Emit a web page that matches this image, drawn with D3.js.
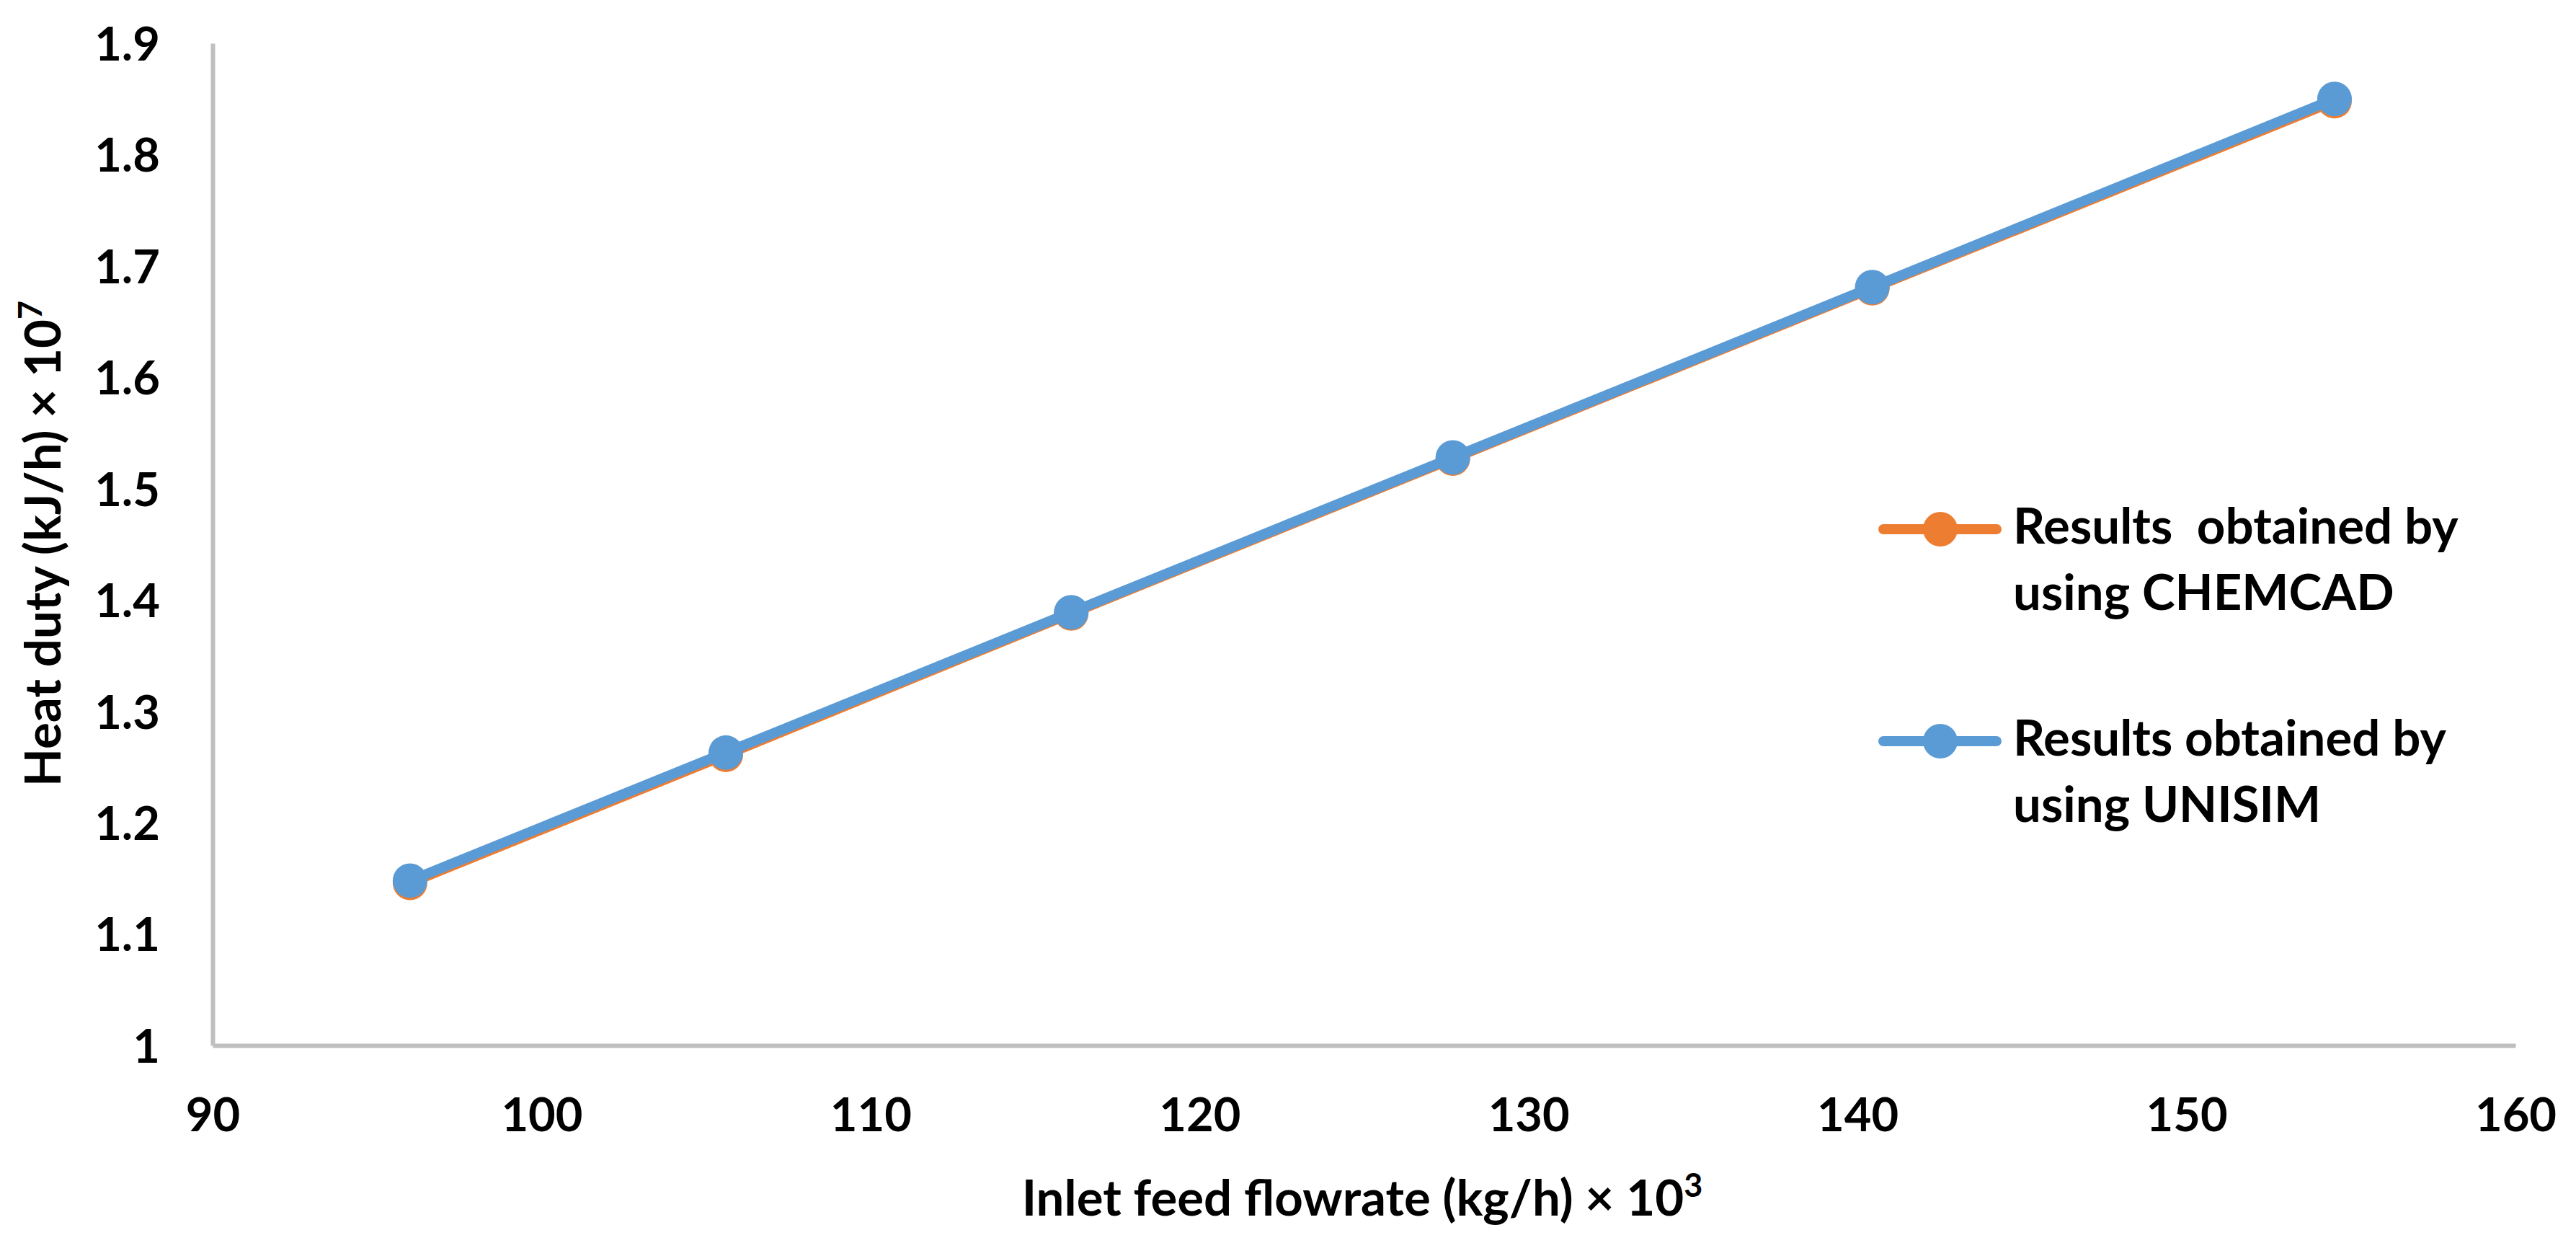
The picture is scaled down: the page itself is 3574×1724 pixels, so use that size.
<!DOCTYPE html>
<html>
<head>
<meta charset="utf-8">
<script src="https://cdn.jsdelivr.net/npm/d3@7"></script>
<style>
  html, body { margin: 0; padding: 0; background: #ffffff; }
  svg { display: block; }
  text { font-family: Lato, "Open Sans", sans-serif; font-weight: 700; fill: #000; }
</style>
</head>
<body>
<svg id="chart" width="3574" height="1724"></svg>
<script>
// ---- data ----
const flowrate = [96.0, 105.6, 116.1, 127.7, 140.45, 154.5];          // kg/h x 10^3
const chemcad  = [1.146, 1.261, 1.388, 1.527, 1.680, 1.848];          // kJ/h x 10^7
const unisim   = [1.148, 1.263, 1.389, 1.528, 1.681, 1.850];          // kJ/h x 10^7
const xTicks = [90, 100, 110, 120, 130, 140, 150, 160];
const yTicks = [1, 1.1, 1.2, 1.3, 1.4, 1.5, 1.6, 1.7, 1.8, 1.9];
const seriesNames = ["Results  obtained by|using CHEMCAD", "Results obtained by|using UNISIM"];
const seriesColors = ["#ED7D31", "#5B9BD5"];

// ---- layout ----
const W = 3574, H = 1724;
const plot = { left: 295, right: 3490, top: 60, bottom: 1450 };
const FS = 65;      // tick labels
const FT = 69;      // titles and legend

const svg = d3.select("#chart");

const x = d3.scaleLinear().domain([90, 160]).range([plot.left, plot.right]);
const y = d3.scaleLinear().domain([1, 1.9]).range([plot.bottom, plot.top]);

// X axis
const gx = svg.append("g")
  .attr("transform", `translate(0,${plot.bottom})`)
  .call(d3.axisBottom(x).tickValues(xTicks).tickSize(0).tickSizeOuter(0).tickFormat(d3.format("d")));
gx.select(".domain").attr("stroke", "#BFBFBF").attr("stroke-width", 6);
gx.selectAll("text")
  .attr("y", 119).attr("dy", null)
  .style("font-size", FS + "px");

// Y axis
const gy = svg.append("g")
  .attr("transform", `translate(${plot.left},0)`)
  .call(d3.axisLeft(y).tickValues(yTicks).tickSize(0).tickSizeOuter(0).tickFormat(d3.format("~f")));
gy.select(".domain").attr("stroke", "#BFBFBF").attr("stroke-width", 6);
gy.selectAll("text")
  .attr("x", -73).attr("dy", "0.36em")
  .style("font-size", FS + "px");

// Axis titles
const xt = svg.append("text")
  .attr("x", 1890)
  .attr("y", 1686)
  .attr("text-anchor", "middle")
  .style("font-size", FT + "px");
xt.append("tspan").text("Inlet feed flowrate (kg/h) × 10");
xt.append("tspan").attr("dy", -26).style("font-size", "45px").text("3");

const yt = svg.append("text")
  .attr("transform", `translate(84,754) rotate(-90)`)
  .attr("text-anchor", "middle")
  .style("font-size", FT + "px");
yt.append("tspan").text("Heat duty (kJ/h) × 10");
yt.append("tspan").attr("dy", -26).style("font-size", "45px").text("7");

// Series
const seriesData = [chemcad, unisim];
const line = d3.line().x(d => x(d[0])).y(d => y(d[1]));

seriesData.forEach((vals, i) => {
  const pts = flowrate.map((f, j) => [f, vals[j]]);
  const g = svg.append("g");
  g.append("path")
    .datum(pts)
    .attr("d", line)
    .attr("fill", "none")
    .attr("stroke", seriesColors[i])
    .attr("stroke-width", 14)
    .attr("stroke-linejoin", "round")
    .attr("stroke-linecap", "round");
  g.selectAll("circle")
    .data(pts)
    .join("circle")
    .attr("cx", d => x(d[0]))
    .attr("cy", d => y(d[1]))
    .attr("r", 24)
    .attr("fill", seriesColors[i]);
});

// Legend
const legendY = [734, 1028];
seriesNames.forEach((name, i) => {
  const g = svg.append("g").attr("transform", `translate(0,${legendY[i]})`);
  g.append("line")
    .attr("x1", 2613).attr("x2", 2770)
    .attr("y1", 0).attr("y2", 0)
    .attr("stroke", seriesColors[i])
    .attr("stroke-width", 14)
    .attr("stroke-linecap", "round");
  g.append("circle")
    .attr("cx", 2692).attr("cy", 0).attr("r", 24)
    .attr("fill", seriesColors[i]);
  const lines = name.split("|");
  const t = g.append("text")
    .attr("x", 2793)
    .attr("y", 20)
    .style("font-size", FT + "px")
    .style("white-space", "pre");
  lines.forEach((l, k) => {
    t.append("tspan").attr("x", 2793).attr("dy", k === 0 ? 0 : 92).text(l);
  });
});
</script>
</body>
</html>
